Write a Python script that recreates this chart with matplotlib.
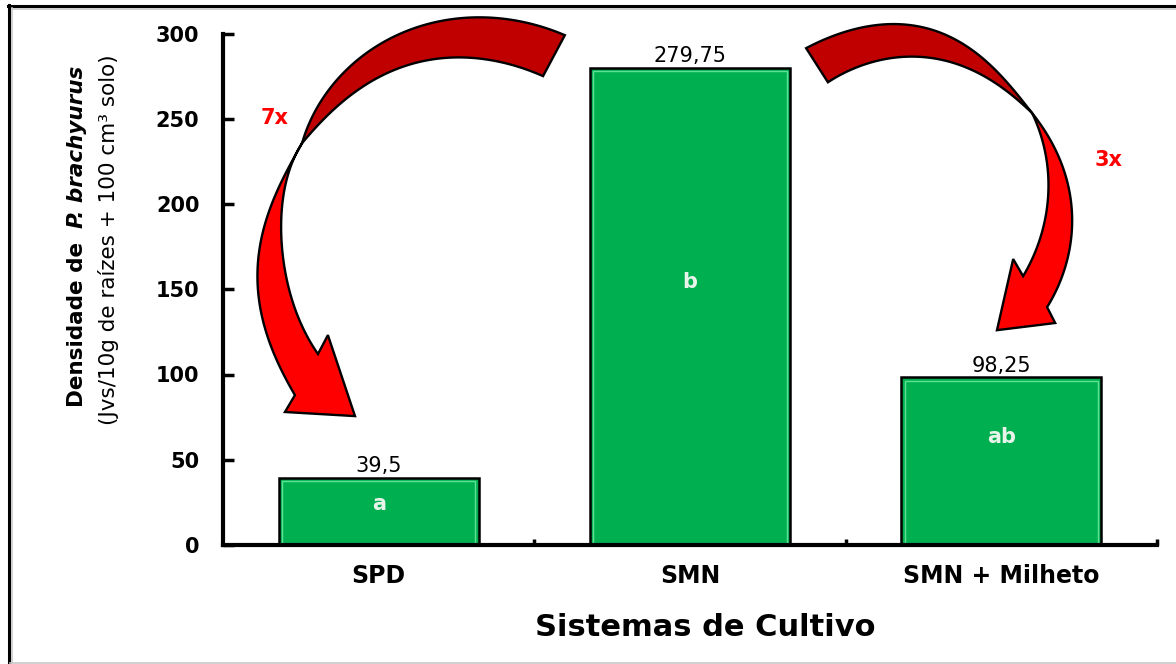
import numpy as np
import matplotlib
matplotlib.use("Agg")
import matplotlib.pyplot as plt
from matplotlib.patches import Polygon
from matplotlib.lines import Line2D

# dados do gráfico
sistemas = ["SPD", "SMN", "SMN + Milheto"]
densidade = [39.5, 279.75, 98.25]
rotulos_valor = ["39,5", "279,75", "98,25"]
letras = ["a", "b", "ab"]
letras_y = [20.5, 150.5, 60.0]        # altura (base do texto) das letras dentro das barras
yticks = [0, 50, 100, 150, 200, 250, 300]

VERDE = "#00B050"
VERDE_CLARO = "#5FE096"
VERMELHO = "#FF0000"
VERMELHO_ESC = "#C00000"

# contorno das setas curvas (coordenadas de dados: x = categoria, y = densidade)
seta_esq = dict(
    ext_sup=[(0.598, 299.0), (0.460, 306.6), (0.325, 310.1), (0.149, 304.3),
             (-0.018, 292.0), (-0.166, 265.0), (-0.246, 235.7)],
    int_sup=[(0.528, 275.0), (0.390, 283.2), (0.252, 286.1), (0.117, 282.6),
             (-0.018, 272.6), (-0.179, 249.2), (-0.246, 235.7)],
    ext_inf=[(-0.246, 235.7), (-0.301, 216.9), (-0.340, 202.3), (-0.381, 172.9),
             (-0.391, 155.4), (-0.375, 133.7), (-0.340, 114.3), (-0.269, 87.9)],
    int_inf=[(-0.246, 235.7), (-0.285, 221.6), (-0.307, 202.3), (-0.311, 178.8),
             (-0.295, 153.6), (-0.253, 131.9), (-0.195, 112.0)],
    ponta=[(-0.301, 78.0), (-0.076, 75.6), (-0.163, 123.1)],
)
seta_dir = dict(
    ext_sup=[(1.373, 291.4), (1.498, 300.8), (1.626, 305.4), (1.765, 303.1),
             (1.906, 290.2), (2.002, 274.4), (2.076, 259.1), (2.099, 253.3)],
    int_sup=[(1.443, 271.4), (1.553, 281.4), (1.681, 286.1), (1.819, 284.3),
             (1.938, 275.5), (2.022, 265.6), (2.099, 253.3)],
    ext_inf=[(2.099, 253.3), (2.150, 239.2), (2.195, 224.0), (2.221, 204.0),
             (2.227, 186.4), (2.211, 167.1), (2.182, 151.3), (2.147, 139.5)],
    int_inf=[(2.099, 253.3), (2.131, 237.4), (2.150, 219.9), (2.150, 204.0),
             (2.134, 186.4), (2.108, 171.2), (2.070, 157.7)],
    ponta=[(2.173, 130.2), (1.986, 126.0), (2.038, 167.7)],
)

ESC_PX = np.array([311.3, 1.7057])   # px por unidade (x, y) no eixo


def suaviza(pts, n=80, grau=4):
    # curva polinomial suave presa nas extremidades
    p = np.asarray(pts, float)
    d = np.r_[0, np.cumsum(np.hypot(*np.diff(p * ESC_PX, axis=0).T))]
    s = d / d[-1]
    w = np.ones(len(p))
    w[0] = w[-1] = 30
    ss = np.linspace(0, 1, n)
    cx = np.polyfit(s, p[:, 0], grau, w=w)
    cy = np.polyfit(s, p[:, 1], grau, w=w)
    q = np.column_stack([np.polyval(cx, ss), np.polyval(cy, ss)])
    q[0], q[-1] = p[0], p[-1]
    return q


def desenha_seta(ax, s):
    escuro = np.vstack([suaviza(s["ext_sup"]), suaviza(s["int_sup"])[::-1]])
    claro = np.vstack([suaviza(s["ext_inf"]), np.asarray(s["ponta"]),
                       suaviza(s["int_inf"])[::-1]])
    for verts, cor in [(escuro, VERMELHO_ESC), (claro, VERMELHO)]:
        ax.add_patch(Polygon(verts, closed=True, facecolor=cor, edgecolor="black",
                             linewidth=1.7, joinstyle="miter", zorder=5, clip_on=False))


fig = plt.figure(figsize=(11.76, 6.64), dpi=100)
ax = fig.add_axes([223 / 1176, 1 - 545 / 664, (1157 - 223) / 1176, (545 - 33.5) / 664])

x = np.arange(len(sistemas))
larg = 0.642
ax.bar(x, densidade, width=larg, color=VERDE, edgecolor="black", linewidth=1.8, zorder=2)
# brilho claro na borda interna das barras
ax.bar(x, np.array(densidade) - 3.2 / ESC_PX[1], width=larg - 6.4 / ESC_PX[0],
       color="none", edgecolor=VERDE_CLARO, linewidth=1.0, zorder=2.5)

for xi, v, r in zip(x, densidade, rotulos_valor):
    ax.annotate(r, (xi, v), xytext=(0, 4), textcoords="offset points",
                ha="center", va="baseline", fontsize=15, zorder=6)
for xi, l, ly in zip(x, letras, letras_y):
    ax.text(xi, ly, l, ha="center", va="baseline", fontsize=15,
            fontweight="bold", color="#E8F4EA", zorder=6)

ax.set_xlim(-0.5, 2.5)
ax.set_ylim(0, 300)
ax.set_yticks(yticks)
ax.set_xticks(x, sistemas)
ax.set_xticks([0.5, 1.5, 2.5], minor=True)
for lado in ["top", "right"]:
    ax.spines[lado].set_visible(False)
for lado in ["left", "bottom"]:
    ax.spines[lado].set_linewidth(3)
    ax.spines[lado].set_zorder(3)
ax.tick_params(axis="y", direction="in", length=8, width=2.5, labelsize=15, pad=17)
ax.tick_params(axis="x", which="both", direction="in", length=4, width=2.5,
               labelsize=17, pad=14)
for lab in ax.get_xticklabels() + ax.get_yticklabels():
    lab.set_fontweight("bold")

desenha_seta(ax, seta_esq)
desenha_seta(ax, seta_dir)
ax.text(-0.333, 250.3, "7x", color=VERMELHO, fontsize=15, fontweight="bold",
        ha="center", va="center", clip_on=False)
ax.text(2.343, 225.7, "3x", color=VERMELHO, fontsize=15, fontweight="bold",
        ha="center", va="center", clip_on=False)

# rótulos dos eixos
fig.text(705 / 1176, 1 - 628 / 664, "Sistemas de Cultivo", ha="center", va="center",
         fontsize=22, fontweight="bold")
t1 = fig.text(77 / 1176, 1 - 407 / 664, "Densidade de", rotation=90, ha="center",
              va="bottom", fontsize=15.5, fontweight="bold")
fig.canvas.draw()
bb = t1.get_window_extent(fig.canvas.get_renderer())
fig.text(77 / 1176, (bb.y1 + 14) / 664, "P. brachyurus", rotation=90, ha="center",
         va="bottom", fontsize=15.5, fontweight="bold", fontstyle="italic")
fig.text(109 / 1176, 1 - 425 / 664, "(Jvs/10g de raízes + 100 cm³ solo)", rotation=90,
         ha="center", va="bottom", fontsize=15.5)

# moldura da figura
fig.add_artist(Line2D([8 / 1176, 1], [1 - 5.5 / 664] * 2, color="black", lw=2.2))
fig.add_artist(Line2D([11 / 1176, 1], [1 - 8.5 / 664] * 2, color="#C8C8C8", lw=1.2))
fig.add_artist(Line2D([8.5 / 1176] * 2, [0, 1 - 4.5 / 664], color="black", lw=2.2))
fig.add_artist(Line2D([11.5 / 1176] * 2, [0, 1 - 8 / 664], color="#C8C8C8", lw=1.2))
fig.add_artist(Line2D([10 / 1176, 1], [1.5 / 664] * 2, color="#C8C8C8", lw=1.2))

fig.savefig("out.png", dpi=100, facecolor="white")
